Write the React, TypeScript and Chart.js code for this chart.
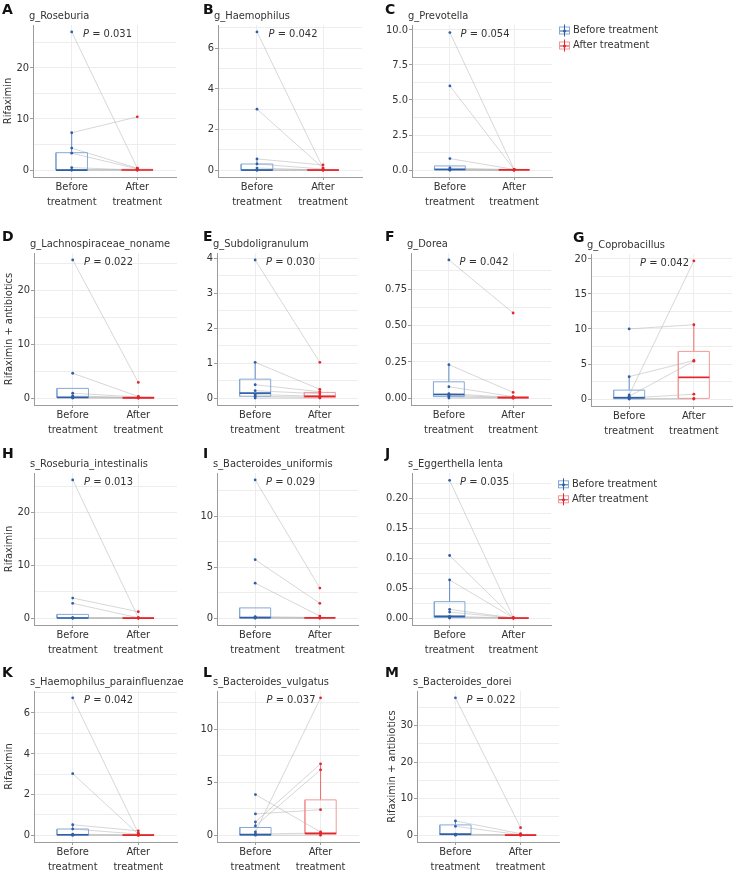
import React, { useEffect, useRef } from 'react';
import { Chart, registerables } from 'chart.js';
Chart.register(...registerables);

const FONT = '"DejaVu Sans Condensed", "DejaVu Sans", sans-serif';
const TEXT = '#333333';
const AXIS = '#9c9c9c';
const GRID = '#ededed';
const PAIR = 'rgba(170,170,170,0.6)';
const BLUE_DARK = '#2d5ea6';
const BLUE_LIGHT = '#86a9d6';
const BLUE_WHISK = '#5f8cc6';
const RED_DARK = '#e3262c';
const RED_LIGHT = '#f29a9a';
const RED_WHISK = '#ec6a6a';

// ---------------- data ----------------
const categories = ['Before treatment', 'After treatment'];
const xTickLabels = [['Before', 'treatment'], ['After', 'treatment']];

// A g_Roseburia
const A_before = [27.0, 7.3, 4.3, 3.3, 0.5, 0.05, 0, 0];
const A_after = [0.4, 10.4, 0.35, 0.25, 0, 0.1, 0, 0];
const A_boxBefore = [0, 0, 0, 3.4, 7.3];
const A_boxAfter = [0, 0, 0.02, 0.15, 0.4];
const A_yTicks = [0, 10, 20];
const A_yLabels = ['0', '10', '20'];

// B g_Haemophilus
const B_before = [6.8, 3.0, 0.55, 0.3, 0.1, 0, 0, 0];
const B_after = [0.1, 0.1, 0.25, 0.05, 0, 0, 0, 0];
const B_boxBefore = [0, 0, 0, 0.3, 0.55];
const B_boxAfter = [0, 0, 0, 0.02, 0.05];
const B_yTicks = [0, 2, 4, 6];
const B_yLabels = ['0', '2', '4', '6'];

// C g_Prevotella
const C_before = [9.8, 6.0, 0.82, 0.15, 0.05, 0.02, 0, 0];
const C_after = [0.05, 0.05, 0.05, 0.03, 0, 0, 0, 0];
const C_boxBefore = [0, 0.02, 0.05, 0.3, 0.3];
const C_boxAfter = [0, 0, 0.02, 0.05, 0.05];
const C_yTicks = [0, 2.5, 5, 7.5, 10];
const C_yLabels = ['0.0', '2.5', '5.0', '7.5', '10.0'];

// D g_Lachnospiraceae_noname
const D_before = [25.6, 4.6, 0.9, 0.4, 0.2, 0.1, 0];
const D_after = [2.9, 0.3, 0.2, 0.1, 0.05, 0, 0];
const D_boxBefore = [0, 0.1, 0.15, 1.8, 1.8];
const D_boxAfter = [0, 0, 0.05, 0.2, 0.3];
const D_yTicks = [0, 10, 20];
const D_yLabels = ['0', '10', '20'];

// E g_Subdoligranulum
const E_before = [3.95, 1.02, 0.38, 0.21, 0.1, 0.05, 0];
const E_after = [1.02, 0.25, 0.18, 0.12, 0.05, 0.02, 0];
const E_boxBefore = [0, 0.05, 0.14, 0.54, 1.02];
const E_boxAfter = [0, 0.01, 0.05, 0.16, 0.25];
const E_yTicks = [0, 1, 2, 3, 4];
const E_yLabels = ['0', '1', '2', '3', '4'];

// F g_Dorea
const F_before = [0.95, 0.23, 0.078, 0.03, 0.02, 0.01, 0];
const F_after = [0.585, 0.039, 0.01, 0.005, 0.002, 0, 0];
const F_boxBefore = [0, 0.01, 0.025, 0.112, 0.23];
const F_boxAfter = [0, 0, 0.003, 0.01, 0.02];
const F_yTicks = [0, 0.25, 0.5, 0.75];
const F_yLabels = ['0.00', '0.25', '0.50', '0.75'];

// G g_Coprobacillus
const G_before = [10.0, 3.2, 0.6, 0.4, 0.15, 0.05, 0];
const G_after = [10.6, 5.5, 19.7, 5.4, 0.7, 0.1, 0];
const G_boxBefore = [0, 0.05, 0.2, 1.28, 3.2];
const G_boxAfter = [0, 0.1, 3.1, 6.8, 10.6];
const G_yTicks = [0, 5, 10, 15, 20];
const G_yLabels = ['0', '5', '10', '15', '20'];

// H s_Roseburia_intestinalis
const H_before = [26.2, 3.8, 2.8, 0.1, 0, 0, 0];
const H_after = [0.1, 1.2, 0.05, 0, 0, 0, 0];
const H_boxBefore = [0, 0, 0.02, 0.7, 0.7];
const H_boxAfter = [0, 0, 0, 0.02, 0.05];
const H_yTicks = [0, 10, 20];
const H_yLabels = ['0', '10', '20'];

// I s_Bacteroides_uniformis
const I_before = [13.56, 5.73, 3.43, 0.15, 0.05, 0, 0];
const I_after = [2.95, 1.45, 0.2, 0.05, 0.02, 0, 0];
const I_boxBefore = [0, 0, 0.05, 1.0, 1.0];
const I_boxAfter = [0, 0, 0.02, 0.05, 0.1];
const I_yTicks = [0, 5, 10];
const I_yLabels = ['0', '5', '10'];

// J s_Eggerthella lenta
const J_before = [0.23, 0.1045, 0.0637, 0.0145, 0.01, 0.003, 0.001, 0];
const J_after = [0.0005, 0.0004, 0.0003, 0.0002, 0.0001, 0, 0, 0];
const J_boxBefore = [0, 0.001, 0.003, 0.0274, 0.0637];
const J_boxAfter = [0, 0, 0, 0.0002, 0.0005];
const J_yTicks = [0, 0.05, 0.1, 0.15, 0.2];
const J_yLabels = ['0.00', '0.05', '0.10', '0.15', '0.20'];

// K s_Haemophilus_parainfluenzae
const K_before = [6.74, 3.02, 0.51, 0.3, 0.05, 0, 0];
const K_after = [0.1, 0.05, 0.21, 0.05, 0, 0, 0];
const K_boxBefore = [0, 0, 0.02, 0.3, 0.51];
const K_boxAfter = [0, 0, 0, 0.02, 0.05];
const K_yTicks = [0, 2, 4, 6];
const K_yLabels = ['0', '2', '4', '6'];

// L s_Bacteroides_vulgatus
const L_before = [0.3, 1.25, 0.87, 2.0, 3.83, 0.1, 0];
const L_after = [12.96, 6.73, 6.17, 2.4, 0.3, 0.2, 0];
const L_boxBefore = [0, 0, 0.05, 0.72, 1.25];
const L_boxAfter = [0, 0.1, 0.16, 3.33, 6.73];
const L_yTicks = [0, 5, 10];
const L_yLabels = ['0', '5', '10'];

// M s_Bacteroides_dorei
const M_before = [37.6, 3.9, 2.4, 0.3, 0.1, 0];
const M_after = [2.05, 0.4, 0.1, 0.05, 0, 0];
const M_boxBefore = [0, 0.1, 0.3, 2.8, 3.9];
const M_boxAfter = [0, 0, 0.02, 0.1, 0.2];
const M_yTicks = [0, 10, 20, 30];
const M_yLabels = ['0', '10', '20', '30'];

const PANELS = [
  { id: 'A', title: 'g_Roseburia', p: '0.031', ylabel: 'Rifaximin', before: A_before, after: A_after, boxBefore: A_boxBefore, boxAfter: A_boxAfter, yMin: -1.35, yMax: 28.35, yTicks: A_yTicks, yLabels: A_yLabels },
  { id: 'B', title: 'g_Haemophilus', p: '0.042', ylabel: '', before: B_before, after: B_after, boxBefore: B_boxBefore, boxAfter: B_boxAfter, yMin: -0.34, yMax: 7.14, yTicks: B_yTicks, yLabels: B_yLabels },
  { id: 'C', title: 'g_Prevotella', p: '0.054', ylabel: '', before: C_before, after: C_after, boxBefore: C_boxBefore, boxAfter: C_boxAfter, yMin: -0.49, yMax: 10.34, yTicks: C_yTicks, yLabels: C_yLabels },
  { id: 'D', title: 'g_Lachnospiraceae_noname', p: '0.022', ylabel: 'Rifaximin + antibiotics', before: D_before, after: D_after, boxBefore: D_boxBefore, boxAfter: D_boxAfter, yMin: -1.28, yMax: 26.88, yTicks: D_yTicks, yLabels: D_yLabels },
  { id: 'E', title: 'g_Subdoligranulum', p: '0.030', ylabel: '', before: E_before, after: E_after, boxBefore: E_boxBefore, boxAfter: E_boxAfter, yMin: -0.2, yMax: 4.15, yTicks: E_yTicks, yLabels: E_yLabels },
  { id: 'F', title: 'g_Dorea', p: '0.042', ylabel: '', before: F_before, after: F_after, boxBefore: F_boxBefore, boxAfter: F_boxAfter, yMin: -0.0475, yMax: 0.9975, yTicks: F_yTicks, yLabels: F_yLabels },
  { id: 'G', title: 'g_Coprobacillus', p: '0.042', ylabel: '', before: G_before, after: G_after, boxBefore: G_boxBefore, boxAfter: G_boxAfter, yMin: -0.985, yMax: 20.685, yTicks: G_yTicks, yLabels: G_yLabels },
  { id: 'H', title: 's_Roseburia_intestinalis', p: '0.013', ylabel: 'Rifaximin', before: H_before, after: H_after, boxBefore: H_boxBefore, boxAfter: H_boxAfter, yMin: -1.31, yMax: 27.51, yTicks: H_yTicks, yLabels: H_yLabels },
  { id: 'I', title: 's_Bacteroides_uniformis', p: '0.029', ylabel: '', before: I_before, after: I_after, boxBefore: I_boxBefore, boxAfter: I_boxAfter, yMin: -0.678, yMax: 14.238, yTicks: I_yTicks, yLabels: I_yLabels },
  { id: 'J', title: 's_Eggerthella lenta', p: '0.035', ylabel: '', before: J_before, after: J_after, boxBefore: J_boxBefore, boxAfter: J_boxAfter, yMin: -0.01154, yMax: 0.2423, yTicks: J_yTicks, yLabels: J_yLabels },
  { id: 'K', title: 's_Haemophilus_parainfluenzae', p: '0.042', ylabel: 'Rifaximin', before: K_before, after: K_after, boxBefore: K_boxBefore, boxAfter: K_boxAfter, yMin: -0.337, yMax: 7.077, yTicks: K_yTicks, yLabels: K_yLabels },
  { id: 'L', title: 's_Bacteroides_vulgatus', p: '0.037', ylabel: '', before: L_before, after: L_after, boxBefore: L_boxBefore, boxAfter: L_boxAfter, yMin: -0.648, yMax: 13.608, yTicks: L_yTicks, yLabels: L_yLabels },
  { id: 'M', title: 's_Bacteroides_dorei', p: '0.022', ylabel: 'Rifaximin + antibiotics', before: M_before, after: M_after, boxBefore: M_boxBefore, boxAfter: M_boxAfter, yMin: -1.88, yMax: 39.48, yTicks: M_yTicks, yLabels: M_yLabels },
];

// ---------------- layout (plot-area rectangles in page px) ----------------
const LAYOUT: Record<string, any> = {
  A: { l: 33, r: 176, t: 25, b: 177, lx: 2, ly: 10 },
  B: { l: 218, r: 362, t: 25, b: 177, lx: 203, ly: 10 },
  C: { l: 412, r: 552, t: 25, b: 177, lx: 385, ly: 10, legend: [5.5, 20.5] },
  D: { l: 34, r: 177, t: 253, b: 405, lx: 2, ly: 237.5 },
  E: { l: 217, r: 358, t: 253, b: 405, lx: 203, ly: 237.5 },
  F: { l: 411, r: 551, t: 253, b: 405, lx: 385, ly: 237.5 },
  G: { l: 591, r: 732, t: 254, b: 406, lx: 573, ly: 238.5 },
  H: { l: 34, r: 177, t: 473, b: 625, lx: 2, ly: 454.5 },
  I: { l: 217, r: 358, t: 473, b: 625, lx: 203, ly: 454.5 },
  J: { l: 412, r: 551, t: 473, b: 625, lx: 385, ly: 454.5, legend: [11.3, 26.3] },
  K: { l: 34, r: 177, t: 691, b: 842, lx: 2, ly: 673 },
  L: { l: 217, r: 359, t: 691, b: 842, lx: 203, ly: 673 },
  M: { l: 417, r: 559, t: 691, b: 842, lx: 385, ly: 673 },
};
const PL = 36;
const PT = 28;
const PB = 46;
const X_MIN = -0.59;
const X_MAX = 1.59;
const HALF_W = 0.24;

function drawLegendIcon(ctx: CanvasRenderingContext2D, x: number, y: number, light: string, dark: string) {
  ctx.save();
  ctx.strokeStyle = light;
  ctx.lineWidth = 1;
  ctx.strokeRect(x + 0.5, y - 3.5, 10, 7);
  ctx.strokeStyle = dark;
  ctx.beginPath();
  ctx.moveTo(x + 5.5, y - 6);
  ctx.lineTo(x + 5.5, y + 6);
  ctx.moveTo(x + 1, y + 0.5);
  ctx.lineTo(x + 10, y + 0.5);
  ctx.stroke();
  ctx.fillStyle = dark;
  ctx.beginPath();
  ctx.arc(x + 5.5, y + 0.5, 1.5, 0, Math.PI * 2);
  ctx.fill();
  ctx.restore();
}

function Panel({ p, lay }: { p: any; lay: any }) {
  const ref = useRef<HTMLCanvasElement>(null);
  const PR = lay.legend ? 112 : 8;
  const left = lay.l - PL;
  const top = lay.t - PT;
  const width = lay.r - lay.l + PL + PR;
  const height = lay.b - lay.t + PT + PB;

  useEffect(() => {
    if (!ref.current) return;
    const step = p.yTicks[1] - p.yTicks[0];
    const eps = step * 1e-6;
    const gridVals: number[] = [];
    for (let v = p.yTicks[0] - step * 2; v <= p.yMax + eps; v += step / 2) {
      if (v >= p.yMin - eps) gridVals.push(v);
    }
    const majorIdx = (v: number) => p.yTicks.findIndex((t: number) => Math.abs(t - v) < eps);

    const lineBase = { showLine: true, pointRadius: 0, tension: 0, fill: false };
    const datasets: any[] = [];
    p.before.forEach((b: number, i: number) => {
      datasets.push({ ...lineBase, data: [{ x: 0, y: b }, { x: 1, y: p.after[i] }], borderColor: PAIR, borderWidth: 0.8, order: 5 });
    });
    const addBox = (box: number[], cx: number, light: string, whisk: string, dark: string) => {
      const [mn, q1, md, q3, mx] = box;
      datasets.push({ ...lineBase, data: [{ x: cx - HALF_W, y: q1 }, { x: cx + HALF_W, y: q1 }, { x: cx + HALF_W, y: q3 }, { x: cx - HALF_W, y: q3 }, { x: cx - HALF_W, y: q1 }], borderColor: light, borderWidth: 1, borderJoinStyle: 'miter', order: 3 });
      datasets.push({ ...lineBase, data: [{ x: cx, y: mn }, { x: cx, y: q1 }], borderColor: whisk, borderWidth: 1, order: 3 });
      datasets.push({ ...lineBase, data: [{ x: cx, y: q3 }, { x: cx, y: mx }], borderColor: whisk, borderWidth: 1, order: 3 });
      datasets.push({ ...lineBase, data: [{ x: cx - HALF_W, y: md }, { x: cx + HALF_W, y: md }], borderColor: dark, borderWidth: 1.7, order: 2 });
    };
    addBox(p.boxBefore, 0, BLUE_LIGHT, BLUE_WHISK, BLUE_DARK);
    addBox(p.boxAfter, 1, RED_LIGHT, RED_WHISK, RED_DARK);
    datasets.push({ label: categories[0], data: p.before.map((v: number) => ({ x: 0, y: v })), showLine: false, pointRadius: 1.4, pointBackgroundColor: BLUE_DARK, pointBorderWidth: 0, order: 0 });
    datasets.push({ label: categories[1], data: p.after.map((v: number) => ({ x: 1, y: v })), showLine: false, pointRadius: 1.4, pointBackgroundColor: RED_DARK, pointBorderWidth: 0, order: 0 });

    const annot = {
      id: 'annot',
      afterDraw(chart: any) {
        const { ctx, chartArea, scales } = chart;
        ctx.save();
        ctx.textBaseline = 'middle';
        ctx.textAlign = 'left';
        ctx.fillStyle = '#111';
        ctx.font = 'bold 14px "DejaVu Sans", sans-serif';
        ctx.fillText(p.id, lay.lx - left, lay.ly - top);
        ctx.fillStyle = TEXT;
        ctx.font = `11px ${FONT}`;
        ctx.fillText(p.title, chartArea.left - 4, chartArea.top - 8.5);
        // P value
        const cx = scales.x.getPixelForValue(0.5) + 3;
        const cy = chartArea.top + 9.5;
        ctx.font = `italic 11px ${FONT}`;
        const wP = ctx.measureText('P').width;
        ctx.font = `11px ${FONT}`;
        const rest = ' = ' + p.p;
        const wR = ctx.measureText(rest).width;
        const sx = cx - (wP + wR) / 2;
        ctx.font = `italic 11px ${FONT}`;
        ctx.fillText('P', sx, cy);
        ctx.font = `11px ${FONT}`;
        ctx.fillText(rest, sx + wP, cy);
        if (lay.legend) {
          const lx0 = chartArea.right + 7;
          const rows = [
            { y: chartArea.top + lay.legend[0], text: categories[0], light: BLUE_LIGHT, dark: BLUE_DARK },
            { y: chartArea.top + lay.legend[1], text: categories[1], light: RED_LIGHT, dark: RED_DARK },
          ];
          rows.forEach((r) => {
            drawLegendIcon(ctx, lx0, r.y, r.light, r.dark);
            ctx.fillStyle = TEXT;
            ctx.font = `11px ${FONT}`;
            ctx.fillText(r.text, lx0 + 14, r.y);
          });
        }
        ctx.restore();
      },
    };

    const chart = new Chart(ref.current, {
      type: 'scatter',
      data: { datasets },
      plugins: [annot],
      options: {
        animation: false,
        responsive: false,
        events: [],
        layout: { padding: { left: 0, top: PT, right: PR, bottom: 0 } },
        plugins: { legend: { display: false }, tooltip: { enabled: false }, title: { display: false } },
        scales: {
          x: {
            type: 'linear',
            min: X_MIN,
            max: X_MAX,
            afterBuildTicks: (s: any) => {
              s.ticks = [{ value: 0 }, { value: 1 }];
            },
            afterFit: (s: any) => {
              s.height = PB;
            },
            ticks: {
              callback: (v: any) => (Math.abs(v) < 1e-9 ? xTickLabels[0] : xTickLabels[1]),
              font: { family: FONT, size: 11, lineHeight: 1.35 },
              color: TEXT,
              padding: 0,
              maxRotation: 0,
              autoSkip: false,
            },
            grid: { color: GRID, lineWidth: 1, tickLength: 3, tickColor: AXIS },
            border: { display: true, color: AXIS, width: 1 },
          },
          y: {
            type: 'linear',
            min: p.yMin,
            max: p.yMax,
            afterBuildTicks: (s: any) => {
              s.ticks = gridVals.map((v) => ({ value: v }));
            },
            afterFit: (s: any) => {
              s.width = PL;
            },
            ticks: {
              callback: (v: any) => {
                const i = majorIdx(v);
                return i >= 0 ? p.yLabels[i] : '';
              },
              font: { family: FONT, size: 11 },
              color: TEXT,
              padding: 1,
              autoSkip: false,
            },
            grid: {
              color: GRID,
              lineWidth: 1,
              tickLength: 3,
              tickColor: (ctx: any) => (ctx.tick && majorIdx(ctx.tick.value) >= 0 ? AXIS : 'rgba(0,0,0,0)'),
            },
            border: { display: true, color: AXIS, width: 1 },
            title: {
              display: !!p.ylabel,
              text: p.ylabel,
              font: { family: FONT, size: 11 },
              color: TEXT,
              padding: { top: 5, bottom: 0 },
            },
          },
        },
      } as any,
    });
    return () => chart.destroy();
  }, []);

  return (
    <canvas
      ref={ref}
      width={width}
      height={height}
      style={{ position: 'absolute', left, top, width, height }}
    />
  );
}

export default function App() {
  return (
    <div style={{ position: 'absolute', left: 0, top: 0, width: 733, height: 874, background: '#fff', overflow: 'hidden' }}>
      {PANELS.map((p) => (
        <Panel key={p.id} p={p} lay={LAYOUT[p.id]} />
      ))}
    </div>
  );
}
